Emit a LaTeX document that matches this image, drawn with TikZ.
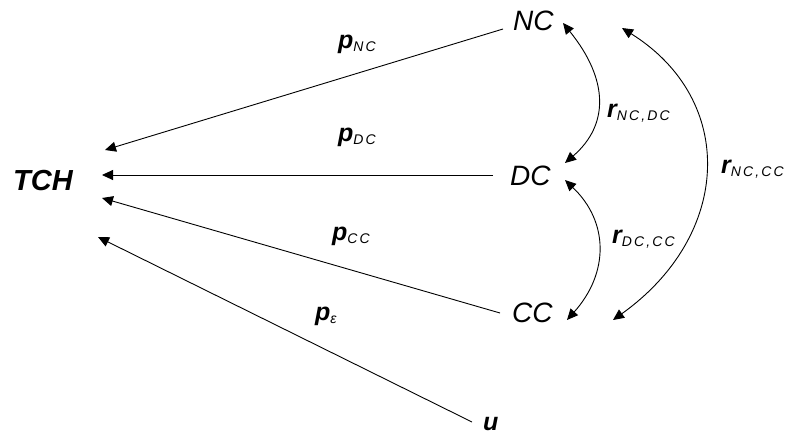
\documentclass[tikz,border=0pt]{standalone}
\usepackage{fontspec}
\setmainfont{Liberation Sans}
\newfontfamily\subfont[LetterSpace=15]{Liberation Sans}
\usetikzlibrary{arrows.meta}
\newcommand\bigtxt{\fontsize{28}{30}\selectfont\itshape}
\newcommand\tchtxt{\fontsize{29}{31}\selectfont\bfseries\itshape}
\newcommand\labtxt{\fontsize{25}{27}\selectfont\bfseries\itshape}
\newcommand\subtxt[1]{\raisebox{-3pt}{\subfont\fontsize{14}{15}\selectfont\itshape\mdseries #1}}
\tikzset{
  vname/.style={inner sep=0pt, anchor=base west, font=\bigtxt},
  tchname/.style={inner sep=0pt, anchor=base west, font=\tchtxt},
  lab/.style={inner sep=0pt, anchor=base west, font=\labtxt},
  tip/.tip={Triangle[length=11pt,width=10pt]},
  arr/.style={-tip, line width=0.9pt},
  dbl/.style={tip-tip, line width=0.9pt}
}
\begin{document}
\begin{tikzpicture}[x=1pt,y=-1pt]
\useasboundingbox[fill=white] (0,0) rectangle (787,434);
% nodes
\node[tchname] (TCH) at (13,190) {TCH};
\node[vname] (NC) at (513,30) {NC};
\node[vname] (DC) at (510,185) {DC};
\node[vname] (CC) at (512,322) {CC};
\node[lab] (U) at (483,430) {u};
% free ends near TCH
\coordinate (t1) at (105,150);
\coordinate (t2) at (102,175);
\coordinate (t3) at (102,198);
\coordinate (t4) at (98,237);
% straight arrows
\draw[arr] ([shift={(-10,-1)}]NC.base west) -- (t1);
\draw[arr] ([shift={(-17,-10)}]DC.base west) -- (t2);
\draw[arr] ([shift={(-12,-9)}]CC.base west) -- (t3);
\draw[arr] ([shift={(-11,-8)}]U.base west) -- (t4);
% labels
\node[lab] (pNC) at (338,48) {p\subtxt{NC}};
\node[lab] (pDC) at (338,141) {p\subtxt{DC}};
\node[lab] (pCC) at (332,240) {p\subtxt{CC}};
\node[lab] (pE) at (315,320) {p\subtxt{ε}};
\node[lab] (rNCDC) at (607,117) {r\subtxt{NC,DC}};
\node[lab] (rDCCC) at (612,243) {r\subtxt{DC,CC}};
\node[lab] (rNCCC) at (721,173) {r\subtxt{NC,CC}};
% curved double arrows
\coordinate (nc1) at (563,23);
\coordinate (nc2) at (622,28);
\coordinate (dc1) at (565,163);
\coordinate (dc2) at (565,180);
\coordinate (cc1) at (567,320);
\coordinate (cc2) at (613,320);
\draw[dbl] (dc1) .. controls (609,125) and (609,80) .. (nc1);
\draw[dbl] (dc2) .. controls (609,222) and (609,273) .. (cc1);
\draw[dbl] (nc2) .. controls (737,100) and (732,235) .. (cc2);
\end{tikzpicture}
\end{document}
